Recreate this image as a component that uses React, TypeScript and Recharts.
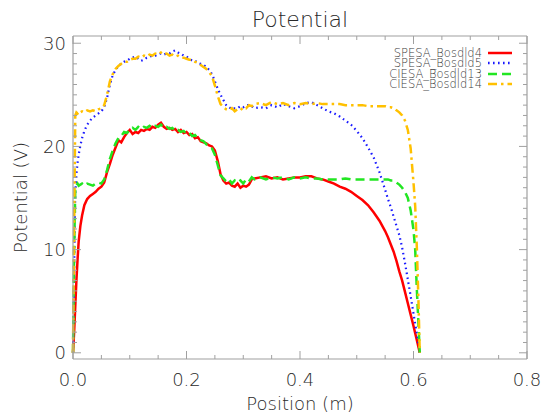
import { LineChart, Line, XAxis, YAxis, Legend, Label } from "recharts";

// shared sample positions (m)
const position = [
  0, 0.002, 0.004, 0.006, 0.008, 0.01, 0.013, 0.016, 0.02, 0.025, 0.03, 0.035, 0.04, 0.045,
  0.05, 0.055, 0.06, 0.065, 0.07, 0.075, 0.08, 0.085, 0.09, 0.095,
  0.1, 0.105, 0.11, 0.115, 0.12, 0.125, 0.13, 0.135, 0.14, 0.145,
  0.15, 0.155, 0.16, 0.165, 0.17, 0.175, 0.18, 0.185, 0.19, 0.195,
  0.2, 0.205, 0.21, 0.215, 0.22, 0.225, 0.23, 0.235, 0.24, 0.245,
  0.25, 0.255, 0.26, 0.265, 0.27, 0.275, 0.28, 0.285, 0.29, 0.295,
  0.3, 0.305, 0.31, 0.315,
  0.32, 0.33, 0.34, 0.35, 0.36, 0.37, 0.38, 0.39, 0.4, 0.41,
  0.42, 0.43, 0.44, 0.45, 0.46, 0.47, 0.48, 0.49, 0.5, 0.51,
  0.52, 0.53, 0.54, 0.55,
  0.555, 0.56, 0.565, 0.57, 0.575, 0.58, 0.585, 0.59, 0.595, 0.6,
  0.603, 0.606, 0.609, 0.611,
];

const spesaBosdld4 = [
  0, 2.0, 4.5, 7.0, 9.0, 10.8, 12.3, 13.3, 14.3, 14.9, 15.2, 15.4, 15.6, 15.9,
  16.1, 16.5, 17.5, 18.3, 19.2, 19.9, 20.6, 20.4, 20.9, 21.3,
  21.6, 21.2, 21.4, 21.3, 21.6, 21.5, 21.7, 21.6, 21.9, 21.8,
  22.1, 22.3, 21.9, 21.7, 21.8, 21.6, 21.7, 21.4, 21.6, 21.3,
  21.4, 21.1, 21.2, 20.8, 20.9, 20.5, 20.4, 20.3, 20.1, 20.0,
  19.6, 18.6, 17.3, 16.7, 16.4, 16.5, 16.2, 16.1, 16.4, 16.0,
  16.2, 16.1, 16.3, 16.8,
  16.9, 17.0, 17.1, 16.9, 17.0, 16.8, 16.9, 17.0, 17.0, 17.1,
  17.1, 16.9, 16.8, 16.6, 16.4, 16.1, 15.9, 15.6, 15.2, 14.8,
  14.3, 13.6, 12.8, 11.8,
  11.2, 10.5, 9.8, 8.9, 7.9, 7.0, 5.9, 4.8, 3.7, 2.6,
  1.9, 1.2, 0.5, 0,
];

const spesaBosdld5 = [
  0, 8.0, 15.5, 17.3, 18.4, 19.2, 20.1, 20.8, 21.5, 22.1, 22.5, 22.8, 23.0, 23.2,
  23.4, 23.8, 24.7, 26.0, 26.9, 27.4, 27.8, 28.0, 28.2, 28.3,
  28.5, 28.6, 28.7, 28.5, 28.3, 28.4, 28.6, 28.7, 28.8, 28.8,
  28.9, 29.0, 28.9, 29.0, 29.0, 29.2, 29.3, 29.1, 29.0, 28.8,
  28.7, 28.5, 28.3, 28.3, 28.1, 28.0, 27.9, 27.7, 27.4, 27.0,
  26.3, 25.6, 25.0, 24.5, 24.0, 23.8, 23.6, 23.7, 23.7, 23.9,
  23.8, 24.0, 24.0, 23.9,
  23.7, 23.8, 23.7, 24.0, 23.8, 24.1, 23.9, 23.7, 23.9, 24.2,
  24.3, 24.0, 23.7, 23.4, 23.2, 22.9, 22.5, 22.1, 21.5, 20.8,
  19.9, 18.9, 17.5, 15.8,
  14.9, 14.1, 13.2, 12.3, 11.4, 10.2, 8.7, 7.1, 5.5, 3.8,
  2.8, 1.8, 0.8, 0,
];

const ciesaBosdld13 = [
  0, 10.0, 15.8, 16.2, 16.4, 16.2, 16.3, 16.4, 16.2, 16.4, 16.3, 16.2, 16.4, 16.5,
  16.4, 16.8, 17.7, 18.8, 19.6, 20.3, 20.8, 21.0, 21.4, 21.3,
  21.6, 21.8, 21.6, 21.9, 21.7, 21.9, 21.8, 22.0, 21.8, 22.0,
  21.9, 22.1, 21.8, 21.9, 21.7, 21.8, 21.5, 21.6, 21.4, 21.5,
  21.2, 21.3, 21.0, 21.1, 20.8, 20.6, 20.5, 20.2, 20.0, 19.8,
  19.2, 18.2, 17.2, 16.9, 16.6, 16.8, 16.4, 16.7, 16.5, 16.7,
  16.4, 16.8, 16.6, 17.0,
  16.8, 17.0, 16.8, 17.0, 16.9, 17.0, 16.8, 17.0, 16.9, 17.0,
  16.9, 16.9, 16.8, 16.8, 16.8, 16.8, 16.9, 16.8, 16.8, 16.8,
  16.8, 16.8, 16.8, 16.8,
  16.8, 16.7, 16.7, 16.5, 16.3, 16.0, 15.6, 15.0, 13.8, 11.9,
  10.0, 6.0, 2.5, 0,
];

const ciesaBosdld14 = [
  0, 12.0, 23.0, 23.3, 23.2, 23.4, 23.3, 23.4, 23.3, 23.5, 23.4, 23.5, 23.4, 23.6,
  23.7, 24.0, 25.0, 26.3, 27.0, 27.5, 27.8, 28.0, 28.2, 28.2,
  28.4, 28.5, 28.5, 28.7, 28.6, 28.8, 28.7, 28.9, 28.8, 29.0,
  28.9, 29.1, 28.9, 29.0, 28.8, 28.9, 28.7, 28.8, 28.6, 28.6,
  28.5, 28.4, 28.4, 28.2, 28.1, 27.9, 27.7, 27.5, 27.2, 26.8,
  25.9, 24.9, 24.1, 23.8, 23.6, 23.5, 23.7, 23.4, 23.6, 23.5,
  23.8, 23.7, 24.0, 23.9,
  24.1, 24.2, 24.0, 24.3, 24.1, 24.2, 24.0, 24.2, 24.1, 24.2,
  24.1, 24.2, 24.1, 24.1, 24.1, 24.1, 24.0, 24.0, 24.0, 24.0,
  23.9, 23.9, 23.9, 23.9,
  23.8, 23.8, 23.7, 23.5, 23.3, 23.0, 22.5, 21.6, 19.8, 16.5,
  14.2, 10.0, 4.5, 0,
];

const seriesNames = ["SPESA_Bosdld4", "SPESA_Bosdld5", "CIESA_Bosdld13", "CIESA_Bosdld14"];

const xTicks = [0, 0.05, 0.1, 0.15, 0.2, 0.25, 0.3, 0.35, 0.4, 0.45, 0.5, 0.55, 0.6, 0.65, 0.7, 0.75, 0.8];
const xMajor = [0, 0.2, 0.4, 0.6, 0.8];
const yTicks = [0, 1, 2, 3, 4, 5, 6, 7, 8, 9, 10, 11, 12, 13, 14, 15, 16, 17, 18, 19, 20, 21, 22, 23, 24, 25, 26, 27, 28, 29, 30];
const yMajor = [0, 10, 20, 30];

const data = position.map((x, i) => ({
  x,
  s4: spesaBosdld4[i],
  s5: spesaBosdld5[i],
  c13: ciesaBosdld13[i],
  c14: ciesaBosdld14[i],
}));

const FONT = '"DejaVu Sans", Verdana, sans-serif';
const WEIGHT = 200;
const FRAME = "#a0a0a0";
const TEXT = "#2a2a2a";

const dashes: Record<string, string | undefined> = {
  s4: undefined,
  s5: "1.6 3.4",
  c13: "9 5",
  c14: "9 4 2.5 4",
};

const isMajor = (v: number, majors: number[]) => majors.some((m) => Math.abs(m - v) < 1e-6);

function BottomTick(props: any) {
  const { x, y, payload } = props;
  const major = isMajor(payload.value, xMajor);
  return (
    <g>
      <line x1={x} x2={x} y1={y} y2={y - (major ? 8 : 4)} stroke={FRAME} />
      {major && (
        <text x={x} y={y + 27} textAnchor="middle" fontSize={18} fontWeight={WEIGHT} fill={TEXT} fontFamily={FONT}>
          {payload.value.toFixed(1)}
        </text>
      )}
    </g>
  );
}

function TopTick(props: any) {
  const { x, y, payload } = props;
  const major = isMajor(payload.value, xMajor);
  return <line x1={x} x2={x} y1={y} y2={y + (major ? 8 : 4)} stroke={FRAME} />;
}

function LeftTick(props: any) {
  const { x, y, payload } = props;
  const major = isMajor(payload.value, yMajor);
  return (
    <g>
      <line x1={x} x2={x + (major ? 8 : 4)} y1={y} y2={y} stroke={FRAME} />
      {major && (
        <text x={x - 7} y={y + 6.5} textAnchor="end" fontSize={18} fontWeight={WEIGHT} fill={TEXT} fontFamily={FONT}>
          {payload.value}
        </text>
      )}
    </g>
  );
}

function RightTick(props: any) {
  const { x, y, payload } = props;
  const major = isMajor(payload.value, yMajor);
  return <line x1={x} x2={x - (major ? 8 : 4)} y1={y} y2={y} stroke={FRAME} />;
}

function LegendBox(props: any) {
  const items = [...(props.payload || [])].sort(
    (a: any, b: any) => seriesNames.indexOf(a.value) - seriesNames.indexOf(b.value)
  );
  return (
    <div style={{ width: 515, fontFamily: FONT, fontWeight: WEIGHT, fontSize: 11.5, color: "#404040" }}>
      {items.map((it: any) => (
        <div
          key={it.value}
          style={{ display: "flex", justifyContent: "flex-end", alignItems: "center", height: 10.5, lineHeight: "10.5px" }}
        >
          <span>{it.value}</span>
          <svg width={30} height={6} style={{ marginLeft: 3 }}>
            <line
              x1={3}
              x2={27}
              y1={3}
              y2={3}
              stroke={it.color}
              strokeWidth={2.5}
              strokeDasharray={dashes[it.dataKey]}
            />
          </svg>
        </div>
      ))}
    </div>
  );
}

export default function App() {
  return (
    <div style={{ position: "absolute", left: 0, top: 0 }}>
      <LineChart width={542} height={415} data={data} margin={{ top: 35, right: 14, bottom: 0, left: 0 }}>
        <XAxis
          xAxisId="x"
          dataKey="x"
          type="number"
          domain={[0, 0.8]}
          ticks={xTicks}
          interval={0}
          height={56}
          tickSize={0}
          tickMargin={0}
          tickLine={false}
          axisLine={{ stroke: FRAME, strokeWidth: 1.2 }}
          tick={<BottomTick />}
        >
          <Label value="Position (m)" position="insideBottom" offset={5} fontSize={18} fontWeight={WEIGHT} fill={TEXT} fontFamily={FONT} />
        </XAxis>
        <XAxis
          xAxisId="xt"
          dataKey="x"
          type="number"
          orientation="top"
          domain={[0, 0.8]}
          ticks={xTicks}
          interval={0}
          height={1}
          tickSize={0}
          tickMargin={0}
          tickLine={false}
          axisLine={{ stroke: FRAME, strokeWidth: 1.2 }}
          tick={<TopTick />}
        >
          <Label value="Potential" position="top" offset={8} fontSize={22} fontWeight={WEIGHT} fill={TEXT} fontFamily={FONT} />
        </XAxis>
        <YAxis
          yAxisId="v"
          type="number"
          domain={[-0.6, 30.7]}
          allowDataOverflow
          ticks={yTicks}
          interval={0}
          width={73}
          tickSize={0}
          tickMargin={0}
          tickLine={false}
          axisLine={{ stroke: FRAME, strokeWidth: 1.2 }}
          tick={<LeftTick />}
        >
          <Label
            value="Potential (V)"
            angle={-90}
            position="insideLeft"
            offset={21}
            fontSize={18}
            fontWeight={WEIGHT}
            fill={TEXT}
            fontFamily={FONT}
            style={{ textAnchor: "middle" }}
          />
        </YAxis>
        <YAxis
          yAxisId="vr"
          type="number"
          orientation="right"
          domain={[-0.6, 30.7]}
          allowDataOverflow
          ticks={yTicks}
          interval={0}
          width={1}
          tickSize={0}
          tickMargin={0}
          tickLine={false}
          axisLine={{ stroke: FRAME, strokeWidth: 1.2 }}
          tick={<RightTick />}
        />
        <Legend
          layout="vertical"
          align="center"
          verticalAlign="middle"
          wrapperStyle={{ left: 0, top: 47.5, width: 515 }}
          content={<LegendBox />}
        />
        <Line xAxisId="xt" yAxisId="v" name={seriesNames[0]} dataKey="s4" stroke="#ff0000" strokeWidth={2.5} dot={false} isAnimationActive={false} />
        <Line xAxisId="x" yAxisId="vr" name={seriesNames[1]} dataKey="s5" stroke="#1a1aff" strokeWidth={2.2} strokeDasharray={dashes.s5} dot={false} isAnimationActive={false} />
        <Line xAxisId="x" yAxisId="v" name={seriesNames[2]} dataKey="c13" stroke="#22e622" strokeWidth={2.5} strokeDasharray={dashes.c13} dot={false} isAnimationActive={false} />
        <Line xAxisId="x" yAxisId="v" name={seriesNames[3]} dataKey="c14" stroke="#ffc000" strokeWidth={2.5} strokeDasharray={dashes.c14} dot={false} isAnimationActive={false} />
      </LineChart>
    </div>
  );
}
